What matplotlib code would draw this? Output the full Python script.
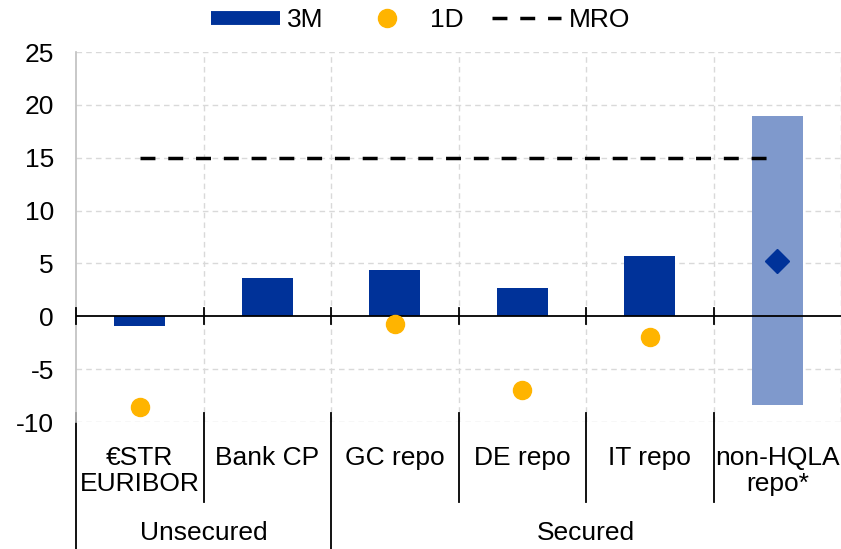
import numpy as np
import matplotlib
matplotlib.use('Agg')
import matplotlib.pyplot as plt
from matplotlib.lines import Line2D

plt.rcParams['font.family'] = ['Liberation Sans', 'DejaVu Sans']

categories = ['€STR\nEURIBOR', 'Bank CP', 'GC repo', 'DE repo', 'IT repo', 'non-HQLA\nrepo*']
groups = ['Unsecured', 'Secured']
group_spans = [(0, 1), (2, 5)]

three_m = [-0.95, 3.6, 4.35, 2.65, 5.7, np.nan]
one_d = [-8.6, np.nan, -0.7, -7.0, -2.0, np.nan]
mro = [15, 15, 15, 15, 15, 15]

# non-HQLA repo: range bar plus point estimate
hqla_low = -8.35
hqla_high = 18.9
hqla_point = 5.2

y_ticks = [-10, -5, 0, 5, 10, 15, 20, 25]

DARK_BLUE = '#003299'
LIGHT_BLUE = '#7f99cc'
YELLOW = '#ffb400'
GRID = '#d9d9d9'
FS = 19

fig = plt.figure(figsize=(8.41, 5.49), dpi=100)
ax = fig.add_axes([76 / 841, 1 - 422 / 549, 1 - 76 / 841, 370 / 549])

x = np.arange(len(categories))

ax.bar(x, three_m, width=0.4, color=DARK_BLUE, zorder=3)
ax.bar(x[-1], hqla_high - hqla_low, bottom=hqla_low, width=0.4, color=LIGHT_BLUE, zorder=2)
ax.plot(x[-1], hqla_point, marker='D', markersize=12, color=DARK_BLUE, linestyle='none', zorder=5)
ax.plot(x, one_d, marker='o', markersize=13, color=YELLOW, linestyle='none', zorder=5)
ax.plot(x, mro, color='black', lw=2.5, dashes=(4.3, 3.7), zorder=4)

ax.set_xlim(-0.5, len(categories) - 0.5)
ax.set_ylim(-10, 25)
ax.set_yticks(y_ticks)
ax.set_yticklabels([str(v) for v in y_ticks], fontsize=FS)
ax.tick_params(axis='y', length=0, pad=16)
ax.set_xticks([])

# grid
for v in y_ticks:
    if v != 0:
        ax.axhline(v, color=GRID, lw=1, linestyle=(0, (4, 3)), zorder=0)
bounds = np.arange(len(categories)) + 0.5
for b in bounds:
    ax.axvline(b, color=GRID, lw=1, linestyle=(0, (4, 3)), zorder=0)

# zero line with small ticks
ax.axhline(0, color='black', lw=1.3, zorder=4)
for b in np.concatenate([[-0.5], bounds[:-1]]):
    ax.plot([b, b], [-0.75, 0.75], color='black', lw=1.3, zorder=4, clip_on=False)

for s in ['top', 'right', 'bottom']:
    ax.spines[s].set_visible(False)
ax.spines['left'].set_color('#bfbfbf')
ax.spines['left'].set_linewidth(1.2)

# category labels and separators
tr = ax.get_xaxis_transform()
for i, lab in enumerate(categories):
    ax.text(i, -0.064, lab, transform=tr, ha='center', va='top', fontsize=FS,
            linespacing=1.13)
group_edges = [span[0] - 0.5 for span in group_spans]
for b in np.concatenate([[-0.5], bounds[:-1]]):
    bottom = -0.36 if b in group_edges else -0.216
    ax.plot([b, b], [0.024, bottom], transform=tr, color='black', lw=1.3, clip_on=False)
for name, (a, b) in zip(groups, group_spans):
    ax.text((a + b) / 2, -0.3, name, transform=tr, ha='center', va='center', fontsize=FS)

handles = [
    Line2D([0], [0], color=DARK_BLUE, lw=10, solid_capstyle='butt'),
    Line2D([0], [0], color=YELLOW, marker='o', markersize=13, linestyle='none'),
    Line2D([0], [0], color='black', lw=2.5, dashes=(4.3, 3.7)),
]
fig.legend(handles, ['3M', '1D', 'MRO'], loc='upper center', bbox_to_anchor=(0.5, 1.028),
           ncol=3, frameon=False, fontsize=FS, handlelength=2.6, handletextpad=0.3,
           columnspacing=1.1)

fig.savefig('out.png', dpi=100)
